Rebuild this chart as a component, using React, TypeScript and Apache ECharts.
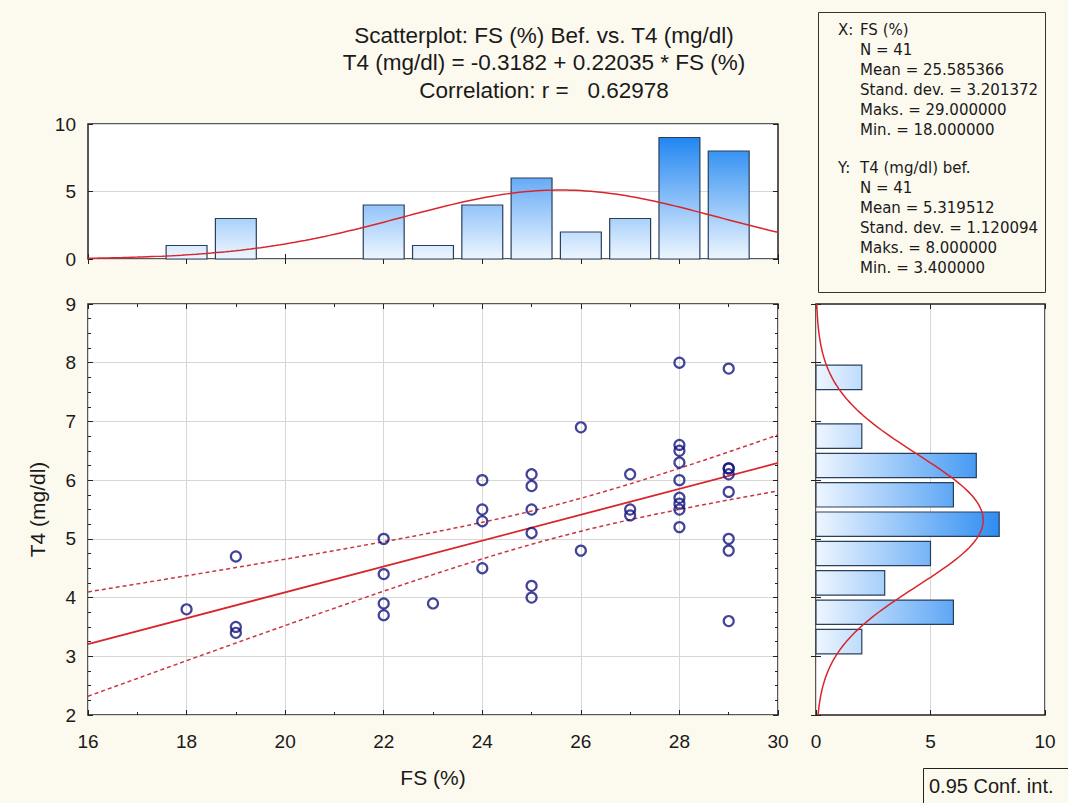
import React, { useEffect, useRef } from "react";
import * as echarts from "echarts";

// Paired observations: FS (%) and T4 (mg/dl) before
const fsValues = [
  18,
  19, 19, 19,
  22, 22, 22, 22,
  23,
  24, 24, 24, 24,
  25, 25, 25, 25, 25, 25,
  26, 26,
  27, 27, 27,
  28, 28, 28, 28, 28, 28, 28, 28, 28,
  29, 29, 29, 29, 29, 29, 29, 29,
];
const t4Values = [
  3.8,
  4.7, 3.5, 3.4,
  5.0, 4.4, 3.9, 3.7,
  3.9,
  6.0, 5.5, 5.3, 4.5,
  6.1, 5.9, 5.5, 5.1, 4.2, 4.0,
  6.9, 4.8,
  6.1, 5.5, 5.4,
  8.0, 6.6, 6.5, 6.3, 6.0, 5.7, 5.6, 5.5, 5.2,
  7.9, 6.2, 6.2, 6.1, 5.8, 5.0, 4.8, 3.6,
];

// Histogram of FS (%) — bins of width 1
const fsBinCenters = [18, 19, 22, 23, 24, 25, 26, 27, 28, 29];
const fsBinCounts = [1, 3, 4, 1, 4, 6, 2, 3, 9, 8];

// Histogram of T4 (mg/dl) — bins of width 0.5
const t4BinCenters = [3.25, 3.75, 4.25, 4.75, 5.25, 5.75, 6.25, 6.75, 7.25, 7.75];
const t4BinCounts = [2, 6, 3, 5, 8, 6, 7, 2, 0, 2];

// Summary statistics
const fsStats = { n: 41, mean: 25.585366, sd: 3.201372, max: 29.0, min: 18.0 };
const t4Stats = { n: 41, mean: 5.319512, sd: 1.120094, max: 8.0, min: 3.4 };
const intercept = -0.3182;
const slope = 0.22035;
const tCrit = 2.0227; // t(0.975, df = 39)

const titleLines = [
  "Scatterplot: FS (%) Bef. vs. T4 (mg/dl)",
  "T4 (mg/dl) = -0.3182 + 0.22035 * FS (%)",
  "Correlation: r =   0.62978",
];

const xStatLines = [
  "N = 41",
  "Mean = 25.585366",
  "Stand. dev. = 3.201372",
  "Maks. = 29.000000",
  "Min. = 18.000000",
];
const yStatLines = [
  "N = 41",
  "Mean = 5.319512",
  "Stand. dev. = 1.120094",
  "Maks. = 8.000000",
  "Min. = 3.400000",
];

const FONT = "'Liberation Sans', Arial, sans-serif";
const STAT_FONT = "'DejaVu Sans', Verdana, sans-serif";
const TEXT = "#1a1a1a";
const BG = "#fcf9ee";
const FRAME = "#222222";
const GRIDLINE = "#d6d6d6";
const RED = "#d8262c";
const NAVY = "#14147e";
const BAR_LIGHT = [238, 246, 255];
const BAR_DARK = [22, 128, 240];
const BAR_EDGE = "#2a3f5c";

function mix(t: number) {
  const c = BAR_LIGHT.map((v, i) => Math.round(v + (BAR_DARK[i] - v) * Math.min(1, t)));
  return `rgb(${c[0]},${c[1]},${c[2]})`;
}

function normalCurve(mean: number, sd: number, scale: number, from: number, to: number, steps: number) {
  const pts: number[][] = [];
  for (let i = 0; i <= steps; i++) {
    const v = from + ((to - from) * i) / steps;
    const z = (v - mean) / sd;
    pts.push([v, (scale / (sd * Math.sqrt(2 * Math.PI))) * Math.exp(-0.5 * z * z)]);
  }
  return pts;
}

function regressionBands(from: number, to: number, steps: number) {
  const n = fsValues.length;
  const xbar = fsValues.reduce((a, b) => a + b, 0) / n;
  const sxx = fsValues.reduce((a, x) => a + (x - xbar) * (x - xbar), 0);
  const sse = fsValues.reduce((a, x, i) => {
    const r = t4Values[i] - (intercept + slope * x);
    return a + r * r;
  }, 0);
  const s = Math.sqrt(sse / (n - 2));
  const upper: number[][] = [];
  const lower: number[][] = [];
  for (let i = 0; i <= steps; i++) {
    const x = from + ((to - from) * i) / steps;
    const yhat = intercept + slope * x;
    const half = tCrit * s * Math.sqrt(1 / n + ((x - xbar) * (x - xbar)) / sxx);
    upper.push([x, yhat + half]);
    lower.push([x, yhat - half]);
  }
  return { upper, lower };
}

const labelStyle = { color: TEXT, fontSize: 19, fontFamily: FONT };
const nameStyle = { color: TEXT, fontSize: 21, fontFamily: FONT };

function frameAxis(gridIndex: number, position: string, min: number, max: number, interval: number, extra: any = {}) {
  return {
    type: "value",
    gridIndex,
    position,
    min,
    max,
    interval,
    axisLine: { show: false },
    axisTick: { show: true, inside: true, length: 5, lineStyle: { color: FRAME, width: 1 } },
    axisLabel: { show: false },
    splitLine: { show: false },
    ...extra,
  };
}

export default function App() {
  const ref = useRef<HTMLDivElement>(null);

  useEffect(() => {
    if (!ref.current) return;
    const chart = echarts.init(ref.current, null, { renderer: "svg" });

    const fsCurve = normalCurve(fsStats.mean, fsStats.sd, fsStats.n * 1, 16, 30, 140);
    const t4Curve = normalCurve(t4Stats.mean, t4Stats.sd, t4Stats.n * 0.5, 2, 9, 140).map(
      ([v, d]) => [d, v]
    );
    const bands = regressionBands(16, 30, 70);
    const regLine = [16, 30].map((x) => [x, intercept + slope * x]);

    const minorX = { show: true, splitNumber: 2, length: 3, lineStyle: { color: FRAME, width: 1 } };
    const minorY = { show: true, splitNumber: 4, length: 3, lineStyle: { color: FRAME, width: 1 } };

    const statText = (x: number, y: number, text: string) => ({
      type: "text",
      x,
      y,
      style: { text, fill: TEXT, font: `15px ${STAT_FONT}`, textVerticalAlign: "middle" },
    });

    const statGraphics: any[] = [
      {
        type: "rect",
        shape: { x: 818.5, y: 12.5, width: 227, height: 280 },
        style: { fill: BG, stroke: "#333", lineWidth: 1 },
      },
      statText(838, 30, "X:"),
      statText(860, 30, "FS (%)"),
      ...xStatLines.map((t, i) => statText(860, 50 + i * 20, t)),
      statText(838, 168, "Y:"),
      statText(860, 168, "T4 (mg/dl) bef."),
      ...yStatLines.map((t, i) => statText(860, 188 + i * 20, t)),
    ];

    const gridBase = { show: true, backgroundColor: "#fff", borderColor: FRAME, borderWidth: 1.5, outerBoundsMode: "none" };

    const option: any = {
      animation: false,
      backgroundColor: BG,
      textStyle: { fontFamily: FONT },
      grid: [
        { left: 88, top: 124, width: 690, height: 135, ...gridBase },
        { left: 88, top: 304, width: 690, height: 411, ...gridBase },
        { left: 816, top: 304, width: 229, height: 411, ...gridBase },
      ],
      xAxis: [
        frameAxis(0, "bottom", 16, 30, 2),
        frameAxis(0, "top", 16, 30, 2),
        frameAxis(1, "bottom", 16, 30, 2, {
          minorTick: minorX,
          axisLabel: { show: true, margin: 17, ...labelStyle },
          splitLine: { show: true, lineStyle: { color: GRIDLINE, width: 1 } },
          name: "FS (%)",
          nameLocation: "middle",
          nameGap: 52,
          nameTextStyle: nameStyle,
        }),
        frameAxis(1, "top", 16, 30, 2, { minorTick: minorX }),
        frameAxis(2, "bottom", 0, 10, 5, {
          axisLabel: { show: true, margin: 17, ...labelStyle },
          splitLine: { show: true, lineStyle: { color: GRIDLINE, width: 1 } },
        }),
        frameAxis(2, "top", 0, 10, 5),
      ],
      yAxis: [
        frameAxis(0, "left", 0, 10, 5, {
          axisLabel: { show: true, margin: 12, ...labelStyle },
          splitLine: { show: true, lineStyle: { color: GRIDLINE, width: 1 } },
        }),
        frameAxis(0, "right", 0, 10, 5),
        frameAxis(1, "left", 2, 9, 1, {
          minorTick: minorY,
          axisLabel: { show: true, margin: 12, ...labelStyle },
          splitLine: { show: true, lineStyle: { color: GRIDLINE, width: 1 } },
          name: "T4 (mg/dl)",
          nameLocation: "middle",
          nameRotate: 90,
          nameGap: 40,
          nameTextStyle: nameStyle,
        }),
        frameAxis(1, "right", 2, 9, 1, { minorTick: minorY }),
        frameAxis(2, "left", 2, 9, 1),
        frameAxis(2, "right", 2, 9, 1),
      ],
      series: [
        {
          type: "custom",
          xAxisIndex: 0,
          yAxisIndex: 0,
          data: fsBinCenters.map((c, i) => [c, fsBinCounts[i]]),
          encode: { x: 0, y: 1 },
          z: 2,
          renderItem: (_p: any, api: any) => {
            const x = api.value(0);
            const c = api.value(1);
            const p0 = api.coord([x - 0.415, c]);
            const p1 = api.coord([x + 0.415, 0]);
            return {
              type: "rect",
              shape: { x: p0[0], y: p0[1], width: p1[0] - p0[0], height: p1[1] - p0[1] },
              style: {
                fill: new echarts.graphic.LinearGradient(0, 1, 0, 0, [
                  { offset: 0, color: mix(0) },
                  { offset: 1, color: mix(c / 9.5) },
                ]),
                stroke: BAR_EDGE,
                lineWidth: 1.2,
              },
            };
          },
        },
        {
          type: "line",
          xAxisIndex: 0,
          yAxisIndex: 0,
          data: fsCurve,
          showSymbol: false,
          symbol: "none",
          z: 3,
          lineStyle: { color: RED, width: 1.5 },
        },
        {
          type: "custom",
          xAxisIndex: 4,
          yAxisIndex: 4,
          data: t4BinCenters.map((c, i) => [t4BinCounts[i], c]),
          encode: { x: 0, y: 1 },
          z: 2,
          renderItem: (_p: any, api: any) => {
            const c = api.value(0);
            const y = api.value(1);
            if (!c) return null;
            const p0 = api.coord([0, y + 0.2075]);
            const p1 = api.coord([c, y - 0.2075]);
            return {
              type: "rect",
              shape: { x: p0[0], y: p0[1], width: p1[0] - p0[0], height: p1[1] - p0[1] },
              style: {
                fill: new echarts.graphic.LinearGradient(0, 0, 1, 0, [
                  { offset: 0, color: mix(0) },
                  { offset: 1, color: mix(c / 9) },
                ]),
                stroke: BAR_EDGE,
                lineWidth: 1.2,
              },
            };
          },
        },
        {
          type: "line",
          xAxisIndex: 4,
          yAxisIndex: 4,
          data: t4Curve,
          showSymbol: false,
          symbol: "none",
          z: 3,
          lineStyle: { color: RED, width: 1.5 },
        },
        {
          type: "line",
          xAxisIndex: 2,
          yAxisIndex: 2,
          data: bands.upper,
          showSymbol: false,
          symbol: "none",
          z: 3,
          lineStyle: { color: "#c8363e", width: 1.5, type: [4, 3] },
        },
        {
          type: "line",
          xAxisIndex: 2,
          yAxisIndex: 2,
          data: bands.lower,
          showSymbol: false,
          symbol: "none",
          z: 3,
          lineStyle: { color: "#c8363e", width: 1.5, type: [4, 3] },
        },
        {
          type: "line",
          xAxisIndex: 2,
          yAxisIndex: 2,
          data: regLine,
          showSymbol: false,
          symbol: "none",
          z: 3,
          lineStyle: { color: RED, width: 1.8 },
        },
        {
          type: "scatter",
          xAxisIndex: 2,
          yAxisIndex: 2,
          data: fsValues.map((x, i) => [x, t4Values[i]]),
          symbol: "circle",
          symbolSize: 10,
          z: 4,
          itemStyle: { color: "rgba(255,255,255,0)", borderColor: NAVY, borderWidth: 2.2 },
        },
      ],
      graphic: [
        ...titleLines.map((t, i) => ({
          type: "text",
          x: 544,
          y: 35 + i * 27.5,
          style: { text: t, fill: TEXT, font: `22.5px ${FONT}`, textAlign: "center", textVerticalAlign: "middle" },
        })),
        ...statGraphics,
        {
          type: "rect",
          shape: { x: 923.5, y: 768.5, width: 150, height: 40 },
          style: { fill: BG, stroke: "#222", lineWidth: 1 },
        },
        {
          type: "text",
          x: 929,
          y: 786,
          style: { text: "0.95 Conf. int.", fill: TEXT, font: `20px ${FONT}`, textVerticalAlign: "middle" },
        },
      ],
    };

    chart.setOption(option);
    return () => chart.dispose();
  }, []);

  return (
    <div
      ref={ref}
      style={{ position: "fixed", left: 0, top: 0, width: 1068, height: 803, background: BG }}
    />
  );
}
